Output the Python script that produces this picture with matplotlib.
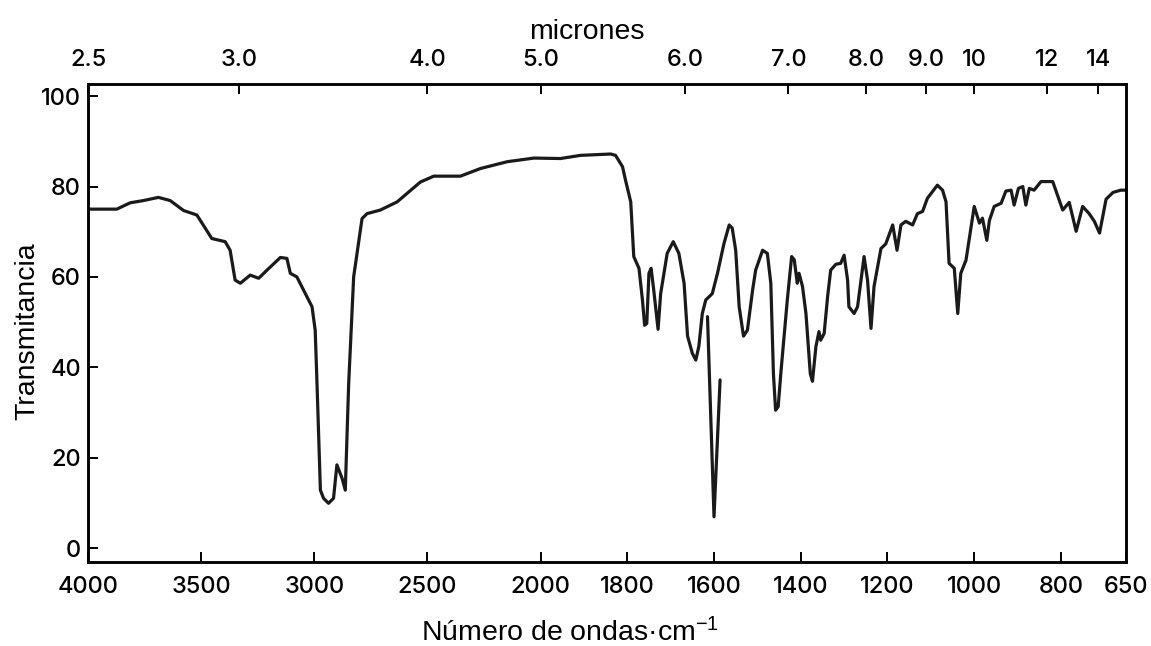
import numpy as np
import matplotlib
matplotlib.use("Agg")
import matplotlib.pyplot as plt

plt.rcParams['font.family'] = ['Liberation Sans', 'DejaVu Sans']
plt.rcParams['mathtext.fontset'] = 'custom'
plt.rcParams['mathtext.rm'] = 'Liberation Sans'
plt.rcParams['mathtext.default'] = 'rm'

# spectrum (wavenumber cm-1, transmittance %)
wavenumber = [4000, 3873, 3814, 3755, 3689, 3637, 3578, 3519, 3453, 3394,
              3372, 3350, 3327, 3283, 3246, 3209, 3150, 3121, 3106, 3077,
              3025, 3010, 2996, 2988, 2973, 2959, 2937, 2915, 2900, 2877,
              2863, 2848, 2826, 2789, 2767, 2708, 2634, 2531, 2472, 2354,
              2265, 2147, 2029, 1954, 1908, 1838, 1827, 1811, 1804, 1792,
              1788, 1785, 1773, 1765, 1760, 1755, 1750, 1745, 1739, 1729,
              1723, 1708, 1694, 1681, 1669, 1661, 1650, 1642, 1635, 1627,
              1619, 1604, 1592, 1577, 1565, 1558, 1550, 1542, 1532, 1523,
              1511, 1504, 1488, 1477, 1469, 1463, 1458, 1452, 1446, 1431,
              1421, 1415, 1408, 1404, 1396, 1388, 1378, 1373, 1365, 1358,
              1354, 1346, 1338, 1331, 1319, 1308, 1300, 1292, 1289, 1277,
              1269, 1254, 1246, 1238, 1231, 1215, 1204, 1188, 1178, 1169,
              1158, 1142, 1131, 1119, 1108, 1085, 1073, 1065, 1058, 1046,
              1038, 1031, 1019, 1000, 988, 981, 971, 965, 954, 938,
              927, 915, 908, 898, 888, 881, 873, 862, 846, 819,
              812, 796, 781, 765, 750, 735, 723, 711, 696, 680,
              662, 650]
transmitancia = [75.0, 75.0, 76.4, 76.9, 77.6, 76.9, 74.7, 73.7, 68.5, 67.8,
                 65.9, 59.3, 58.6, 60.4, 59.7, 61.5, 64.3, 64.1, 60.8, 60.0,
                 54.9, 53.4, 48.2, 36.4, 12.8, 11.0, 9.9, 11.0, 18.4, 15.4,
                 12.8, 36.4, 60.0, 72.9, 74.0, 74.8, 76.6, 81.0, 82.3, 82.3,
                 84.0, 85.5, 86.3, 86.2, 86.9, 87.2, 86.9, 84.4, 81.4, 76.6,
                 69.6, 64.5, 61.9, 54.9, 49.3, 49.7, 60.8, 61.9, 57.1, 48.4,
                 56.3, 65.2, 67.8, 65.2, 58.6, 46.9, 43.1, 41.6, 44.6, 51.9,
                 54.9, 56.3, 60.8, 67.4, 71.5, 70.8, 65.9, 53.4, 46.9, 48.2,
                 57.1, 61.5, 65.9, 65.2, 58.6, 38.6, 30.5, 31.3, 38.6, 54.9,
                 64.5, 63.8, 58.6, 60.8, 57.9, 51.9, 38.6, 36.9, 44.6, 47.9,
                 46.0, 47.5, 55.7, 61.5, 62.8, 63.0, 64.8, 59.3, 53.4, 51.9,
                 53.4, 64.5, 59.3, 48.6, 57.9, 66.3, 67.3, 71.5, 65.9, 71.5,
                 72.3, 71.5, 74.0, 74.5, 77.4, 80.3, 79.2, 76.6, 63.0, 61.9,
                 51.9, 60.8, 63.7, 75.6, 71.9, 73.0, 68.1, 72.5, 75.6, 76.3,
                 79.0, 79.2, 75.9, 79.6, 80.0, 75.9, 79.6, 79.2, 81.1, 81.1,
                 79.2, 74.8, 76.5, 70.1, 75.6, 74.0, 72.3, 69.7, 77.2, 78.7,
                 79.2, 79.2]

# polystyrene calibration mark near 1600
calib_wn = [1615, 1600, 1586]
calib_t = [51.2, 6.9, 37.2]

xticks_bottom = [4000, 3500, 3000, 2500, 2000, 1800, 1600, 1400, 1200, 1000, 800, 650]
micrones = [2.5, 3.0, 4.0, 5.0, 6.0, 7.0, 8.0, 9.0, 10, 12, 14]
micrones_labels = ['2.5', '3.0', '4.0', '5.0', '6.0', '7.0', '8.0', '9.0', '10', '12', '14']

# chart paper: scale roughly doubles below 2000 cm-1
K = 1.917


def fwd(w):
    w = np.asarray(w, dtype=float)
    return np.where(w >= 2000, w, 2000 - (2000 - w) * K)


def inv(u):
    u = np.asarray(u, dtype=float)
    return np.where(u >= 2000, u, 2000 - (2000 - u) / K)


tick_font = dict(family=['Inter', 'Liberation Sans'], weight='medium', size=17)

fig = plt.figure(figsize=(11.51, 6.46), dpi=100)
ax = fig.add_axes([0.0765, 0.130, 0.9018, 0.740])

ax.set_xscale('function', functions=(fwd, inv))
ax.plot(wavenumber, transmitancia, color='#1a1a1a', lw=2.3,
        solid_joinstyle='round', solid_capstyle='round')
ax.plot(calib_wn, calib_t, color='#1a1a1a', lw=2.3,
        solid_joinstyle='round', solid_capstyle='round')
ax.set_xlim(4000, 650)
ax.set_ylim(-3.1, 102.7)

ax.set_xticks(xticks_bottom)
ax.set_xticklabels([str(t) for t in xticks_bottom], fontdict=tick_font)
ax.set_yticks([0, 20, 40, 60, 80, 100])
ax.set_yticklabels(['0', '20', '40', '60', '80', '100'], fontdict=tick_font)
ax.minorticks_off()
ax.tick_params(axis='x', direction='in', length=7, width=1.4, pad=10)
ax.tick_params(axis='y', direction='in', length=7, width=1.4, pad=5)
for s in ax.spines.values():
    s.set_linewidth(1.8)

ax.set_xlabel('Número de ondas·cm$^{-1}$', fontsize=20.5)
ax.xaxis.set_label_coords(0.464, -0.117)
ax.set_ylabel('Transmitancia', fontsize=20.5)
ax.yaxis.set_label_coords(-0.046, 0.483)

# top axis in microns
top = ax.twiny()
top.set_xscale('function', functions=(fwd, inv))
top.set_xlim(4000, 650)
top.set_xticks([10000 / m for m in micrones])
top.set_xticklabels(micrones_labels, fontdict=tick_font)
top.minorticks_off()
top.tick_params(axis='x', direction='in', length=7, width=1.4, pad=9)
top.set_xlabel('micrones', fontsize=20.5)
top.xaxis.set_label_coords(0.481, 1.095)
for s in top.spines.values():
    s.set_linewidth(1.8)

fig.savefig('out.png', dpi=100)
